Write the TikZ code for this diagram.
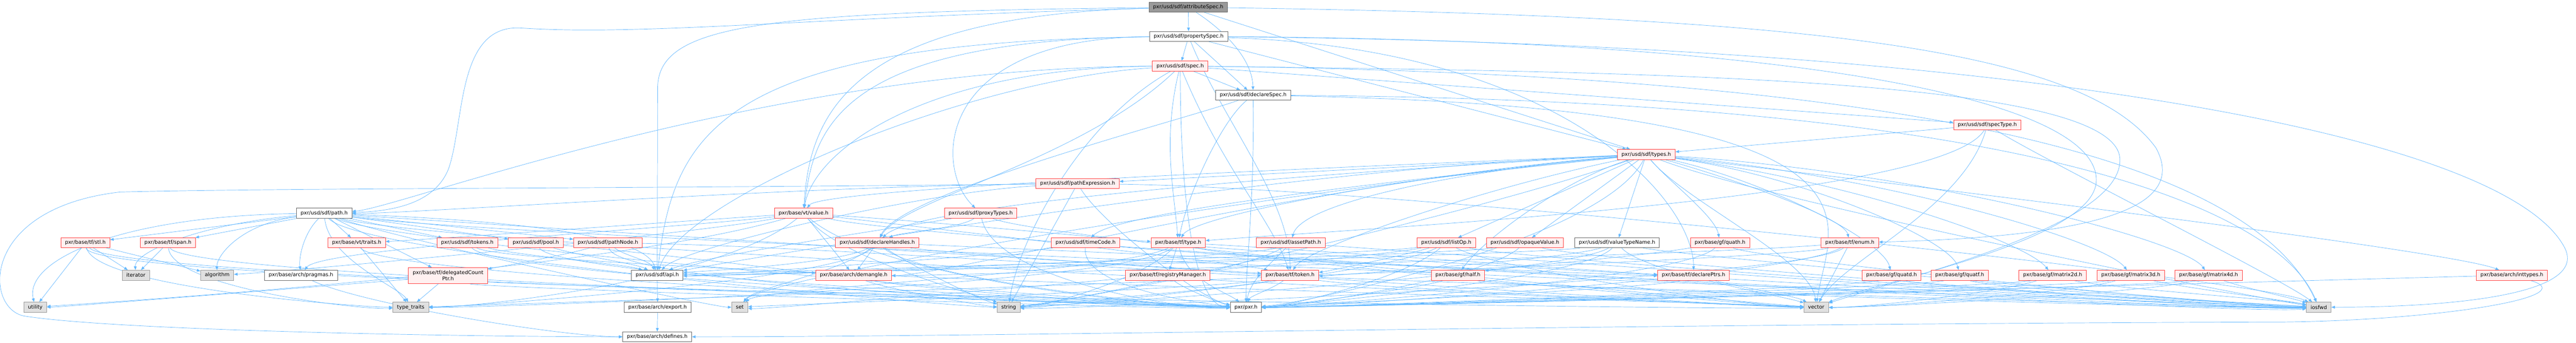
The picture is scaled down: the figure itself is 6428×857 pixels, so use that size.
\documentclass[tikz,border=0pt]{standalone}
\usepackage{fontspec}
\newfontfamily\dv{DejaVu Sans}
\usetikzlibrary{arrows.meta,backgrounds}
\definecolor{edgec}{RGB}{99,184,255}
\definecolor{rbord}{RGB}{255,64,64}
\definecolor{rfill}{RGB}{255,240,240}
\definecolor{wbord}{RGB}{102,102,102}
\definecolor{sbord}{RGB}{153,153,153}
\definecolor{sfill}{RGB}{224,224,224}
\definecolor{rootfill}{RGB}{153,153,153}
\newcommand\ES[2]{\draw[ed] (#1) -- (#2);}
\newcommand\EC[4]{\draw[ed] (#1) .. controls #3 and #4 .. (#2);}
\begin{document}
\begin{tikzpicture}[x=1pt,y=-1pt,
 nb/.style={draw, line width=1pt, minimum height=25pt, inner xsep=10.5pt, inner ysep=2pt, font=\dv\fontsize{12.8}{15}\selectfont, text=black},
 rn/.style={nb, draw=rbord, fill=rfill},
 wn/.style={nb, draw=wbord, fill=white},
 sn/.style={nb, draw=sbord, fill=sfill},
 gn/.style={nb, draw=wbord, fill=rootfill},
 ed/.style={draw=edgec, line width=0.9pt, -{Triangle[length=9pt,width=7pt]}}]
\useasboundingbox (0,0) rectangle (6428,857);
% nodes
\node[gn] (root) at (2965,18) {pxr/usd/sdf/attributeSpec.h};
\node[wn] (pspec) at (2966,91) {pxr/usd/sdf/propertySpec.h};
\node[rn] (spec) at (2945,165) {pxr/usd/sdf/spec.h};
\node[wn] (dspec) at (3127,238) {pxr/usd/sdf/declareSpec.h};
\node[rn] (stype) at (4959,312) {pxr/usd/sdf/specType.h};
\node[rn] (types) at (4108,386) {pxr/usd/sdf/types.h};
\node[rn] (pexpr) at (2689,459) {pxr/usd/sdf/pathExpression.h};
\node[wn] (path) at (809,533) {pxr/usd/sdf/path.h};
\node[rn] (value) at (2005,533) {pxr/base/vt/value.h};
\node[rn] (proxy) at (2447,533) {pxr/usd/sdf/proxyTypes.h};
\node[rn] (stl) at (213,607) {pxr/base/tf/stl.h};
\node[rn] (span) at (419,607) {pxr/base/tf/span.h};
\node[rn] (traits) at (890,607) {pxr/base/vt/traits.h};
\node[rn] (tokens) at (1166,607) {pxr/usd/sdf/tokens.h};
\node[rn] (pool) at (1337,607) {pxr/usd/sdf/pool.h};
\node[rn] (pnode) at (1517,607) {pxr/usd/sdf/pathNode.h};
\node[rn] (dhandles) at (2189,607) {pxr/usd/sdf/declareHandles.h};
\node[rn] (tcode) at (2709,607) {pxr/usd/sdf/timeCode.h};
\node[rn] (tftype) at (2940,607) {pxr/base/tf/type.h};
\node[rn] (apath) at (3221,607) {pxr/usd/sdf/assetPath.h};
\node[rn] (listop) at (3609,607) {pxr/usd/sdf/listOp.h};
\node[rn] (opaque) at (3805,607) {pxr/usd/sdf/opaqueValue.h};
\node[wn] (vtn) at (4035,607) {pxr/usd/sdf/valueTypeName.h};
\node[rn] (quath) at (4292,607) {pxr/base/gf/quath.h};
\node[rn] (enum) at (4616,607) {pxr/base/tf/enum.h};
\node[sn] (iterator) at (339,688) {iterator};
\node[sn] (algorithm) at (542,688) {algorithm};
\node[wn] (pragmas) at (751,688) {pxr/base/arch/pragmas.h};
\node[rn, minimum height=40pt, align=center] (dcp) at (1118,689) {pxr/base/tf/delegatedCount\\Ptr.h};
\node[wn] (api) at (1640,688) {pxr/usd/sdf/api.h};
\node[rn] (demangle) at (2130,688) {pxr/base/arch/demangle.h};
\node[rn] (regmgr) at (2914,688) {pxr/base/tf/registryManager.h};
\node[rn] (token) at (3219,688) {pxr/base/tf/token.h};
\node[rn] (half) at (3638,688) {pxr/base/gf/half.h};
\node[rn] (dptrs) at (4226,688) {pxr/base/tf/declarePtrs.h};
\node[rn] (quatd) at (4720,688) {pxr/base/gf/quatd.h};
\node[rn] (quatf) at (4890,688) {pxr/base/gf/quatf.h};
\node[rn] (mtwo) at (5122,688) {pxr/base/gf/matrix2d.h};
\node[rn] (mthree) at (5317,688) {pxr/base/gf/matrix3d.h};
\node[rn] (mfour) at (5511,688) {pxr/base/gf/matrix4d.h};
\node[rn] (inttypes) at (6268,688) {pxr/base/arch/inttypes.h};
\node[sn] (utility) at (88,768) {utility};
\node[sn] (ttraits) at (1025,768) {type\_traits};
\node[wn] (export) at (1641,768) {pxr/base/arch/export.h};
\node[sn] (set) at (1846,768) {set};
\node[sn] (string) at (2517,768) {string};
\node[wn] (pxr) at (3109,768) {pxr/pxr.h};
\node[sn] (vector) at (4532,768) {vector};
\node[sn] (iosfwd) at (5786,768) {iosfwd};
\node[wn] (defines) at (1640,842) {pxr/base/arch/defines.h};
\begin{pgfonlayer}{background}
\fill[white] (0,0) rectangle (6428,857);
% root
\ES{root}{pspec}
\EC{root}{dspec}{(3060,80)}{(3125,150)}
\ES{root}{types}
\draw[ed] (root) .. controls (4500,40) and (5200,120) .. (5380,370) .. controls (5450,500) and (5300,590) .. (enum);
\draw[ed] (root) .. controls (1900,30) and (1642,60) .. (1641,220) -- (api);
\draw[ed] (root) .. controls (2000,45) and (1600,90) .. (1300,70) .. controls (1140,60) and (1160,300) .. (1120,420) .. controls (1090,500) and (1000,528) .. (path);
\EC{root}{value}{(2100,40)}{(2020,300)}
% propertySpec
\ES{pspec}{spec}
\ES{pspec}{dspec}
\ES{pspec}{types}
\EC{pspec}{proxy}{(2330,95)}{(2330,420)}
\EC{pspec}{value}{(2080,100)}{(2030,330)}
\EC{pspec}{api}{(1800,105)}{(1680,330)}
\draw[ed] (pspec) .. controls (5000,110) and (6250,330) .. (6400,620) .. controls (6460,740) and (6100,768) .. (iosfwd);
\draw[ed] (pspec) .. controls (4500,100) and (5231,250) .. (5231,450) .. controls (5231,600) and (4700,700) .. (vector);
\EC{pspec}{dptrs}{(3900,120)}{(4226,500)}
\EC{pspec}{token}{(3050,300)}{(3220,500)}
% spec
\ES{spec}{dspec}
\EC{spec}{tftype}{(2900,350)}{(2930,480)}
\EC{spec}{value}{(2300,170)}{(2030,380)}
\EC{spec}{dhandles}{(2700,400)}{(2250,500)}
\EC{spec}{path}{(1900,170)}{(1000,520)}
\EC{spec}{pxr}{(2946,560)}{(2990,768)}
\ES{spec}{stype}
\EC{spec}{iosfwd}{(5100,190)}{(5650,480)}
\EC{spec}{string}{(2700,300)}{(2540,600)}
\draw[ed] (spec) .. controls (4200,180) and (5290,200) .. (5290,400) .. controls (5290,560) and (4800,680) .. (vector);
\EC{spec}{token}{(3050,420)}{(3180,560)}
\EC{spec}{api}{(2400,200)}{(1700,500)}
% declareSpec
\EC{dspec}{dhandles}{(2950,300)}{(2250,480)}
\EC{dspec}{tftype}{(3050,300)}{(2965,480)}
\EC{dspec}{pxr}{(3130,500)}{(3110,650)}
\EC{dspec}{iosfwd}{(5200,250)}{(5700,560)}
\EC{dspec}{vector}{(4800,270)}{(4560,560)}
% specType
\ES{stype}{types}
\EC{stype}{tftype}{(4850,500)}{(3400,570)}
\EC{stype}{iosfwd}{(5100,400)}{(5700,700)}
\EC{stype}{vector}{(4900,520)}{(4600,650)}
% types
\EC{types}{api}{(3200,420)}{(1900,640)}
\EC{types}{apath}{(3700,420)}{(3250,500)}
\EC{types}{dhandles}{(3500,420)}{(2300,500)}
\ES{types}{listop}
\ES{types}{opaque}
\ES{types}{pexpr}
\EC{types}{tcode}{(3700,430)}{(2800,520)}
\ES{types}{vtn}
\EC{types}{demangle}{(3300,450)}{(2350,690)}
\EC{types}{inttypes}{(4400,420)}{(6100,620)}
\EC{types}{half}{(3900,450)}{(3700,600)}
\EC{types}{mtwo}{(4600,450)}{(5050,600)}
\EC{types}{mthree}{(4700,440)}{(5250,600)}
\EC{types}{mfour}{(4800,430)}{(5450,600)}
\EC{types}{quatd}{(4400,450)}{(4700,600)}
\EC{types}{quatf}{(4500,440)}{(4870,600)}
\EC{types}{quath}{(4160,450)}{(4280,540)}
\EC{types}{enum}{(4300,440)}{(4600,540)}
\EC{types}{token}{(3700,470)}{(3260,620)}
\EC{types}{tftype}{(3500,440)}{(2980,540)}
\EC{types}{value}{(3300,420)}{(2050,470)}
\EC{types}{pxr}{(4000,600)}{(3250,760)}
\EC{types}{iosfwd}{(4400,500)}{(5600,740)}
\EC{types}{string}{(3600,560)}{(2650,760)}
\EC{types}{vector}{(4200,500)}{(4520,650)}
\EC{types}{set}{(3000,500)}{(1900,700)}
% pathExpression
\EC{pexpr}{path}{(2000,465)}{(1000,535)}
\ES{pexpr}{string}
\EC{pexpr}{api}{(2300,480)}{(1700,620)}
\EC{pexpr}{pxr}{(2750,560)}{(3000,750)}
\EC{pexpr}{iosfwd}{(3500,470)}{(5650,700)}
\draw[ed] (pexpr) .. controls (1500,472) and (700,470) .. (300,480) .. controls (-50,520) and (-40,770) .. (60,790) .. controls (300,828) and (1200,842) .. (defines);
% path
\ES{path}{stl}
\ES{path}{span}
\ES{path}{traits}
\ES{path}{tokens}
\ES{path}{pool}
\ES{path}{pnode}
\ES{path}{dcp}
\EC{path}{api}{(1500,560)}{(1620,620)}
\EC{path}{pragmas}{(760,580)}{(745,640)}
\EC{path}{iterator}{(500,560)}{(335,630)}
\EC{path}{algorithm}{(600,560)}{(540,640)}
\EC{path}{utility}{(300,540)}{(60,650)}
\EC{path}{ttraits}{(820,650)}{(1000,720)}
\EC{path}{set}{(1000,600)}{(1780,768)}
\EC{path}{string}{(900,640)}{(2400,768)}
\EC{path}{vector}{(1100,620)}{(4400,768)}
\EC{path}{iosfwd}{(1300,600)}{(5500,760)}
\EC{path}{pxr}{(1000,620)}{(2950,768)}
\EC{path}{token}{(1200,560)}{(3100,680)}
% value
\EC{value}{traits}{(1600,560)}{(1050,600)}
\ES{value}{demangle}
\EC{value}{tftype}{(2400,560)}{(2800,600)}
\EC{value}{pragmas}{(1700,570)}{(800,620)}
\EC{value}{algorithm}{(1700,590)}{(700,680)}
\EC{value}{utility}{(1500,680)}{(200,760)}
\EC{value}{ttraits}{(1800,700)}{(1200,768)}
\EC{value}{pxr}{(2200,700)}{(2900,768)}
\EC{value}{string}{(2100,650)}{(2450,740)}
\EC{value}{iosfwd}{(2400,620)}{(5600,780)}
\EC{value}{token}{(2400,580)}{(3100,660)}
% proxyTypes
\EC{proxy}{dhandles}{(2400,570)}{(2250,580)}
\EC{proxy}{pxr}{(2480,700)}{(2950,775)}
\EC{proxy}{api}{(2300,560)}{(1750,640)}
\EC{proxy}{vector}{(2600,600)}{(4400,760)}
% stl, span, traits
\ES{stl}{iterator}
\ES{stl}{algorithm}
\ES{stl}{utility}
\EC{stl}{ttraits}{(240,720)}{(900,768)}
\EC{stl}{pxr}{(290,700)}{(2950,760)}
\EC{stl}{vector}{(230,730)}{(4400,775)}
\ES{span}{iterator}
\EC{span}{ttraits}{(430,720)}{(900,775)}
\EC{span}{pxr}{(460,700)}{(2950,765)}
\ES{traits}{ttraits}
\EC{traits}{pxr}{(960,700)}{(2950,770)}
% tokens, pool, pathNode
\EC{tokens}{api}{(1300,640)}{(1560,660)}
\EC{tokens}{pxr}{(1250,700)}{(2950,765)}
\EC{tokens}{vector}{(1300,680)}{(4400,760)}
\EC{pool}{api}{(1450,640)}{(1590,660)}
\EC{pool}{demangle}{(1700,640)}{(2000,680)}
\EC{pool}{pxr}{(1400,700)}{(2950,760)}
\EC{pnode}{api}{(1560,640)}{(1620,650)}
\EC{pnode}{dcp}{(1400,640)}{(1230,670)}
\EC{pnode}{token}{(2000,615)}{(3100,690)}
\EC{pnode}{pxr}{(1540,720)}{(2950,770)}
% declareHandles
\ES{dhandles}{demangle}
\EC{dhandles}{api}{(2100,660)}{(1720,680)}
\EC{dhandles}{dptrs}{(2500,620)}{(4100,690)}
\EC{dhandles}{ttraits}{(2100,700)}{(1150,768)}
\EC{dhandles}{set}{(2100,680)}{(1880,720)}
\EC{dhandles}{pxr}{(2300,700)}{(2950,770)}
\EC{dhandles}{vector}{(2400,640)}{(4400,770)}
\EC{dhandles}{string}{(2300,680)}{(2450,750)}
% timeCode
\EC{tcode}{api}{(2500,640)}{(1720,690)}
\EC{tcode}{pxr}{(2700,720)}{(3000,760)}
\EC{tcode}{iosfwd}{(3000,640)}{(5600,790)}
% tf/type
\ES{tftype}{regmgr}
\EC{tftype}{pxr}{(2960,700)}{(3060,730)}
\EC{tftype}{set}{(2800,680)}{(1900,720)}
\EC{tftype}{string}{(2850,700)}{(2600,768)}
\EC{tftype}{vector}{(3100,650)}{(4400,765)}
\EC{tftype}{iosfwd}{(3100,630)}{(5600,775)}
\EC{tftype}{ttraits}{(2800,720)}{(1150,770)}
\EC{tftype}{dptrs}{(3200,620)}{(4100,685)}
\EC{regmgr}{pxr}{(2950,720)}{(3050,760)}
% demangle, dcp
\EC{demangle}{string}{(2200,720)}{(2450,765)}
\EC{demangle}{pxr}{(2250,720)}{(2950,770)}
\ES{dcp}{ttraits}
\EC{dcp}{utility}{(1000,700)}{(150,768)}
\EC{dcp}{pxr}{(1200,720)}{(2950,775)}
% assetPath, listOp, opaqueValue, valueTypeName
\EC{apath}{pxr}{(3170,660)}{(3120,700)}
\EC{apath}{api}{(3100,650)}{(1720,690)}
\EC{apath}{iosfwd}{(3400,620)}{(5600,780)}
\EC{apath}{string}{(3100,680)}{(2600,760)}
\EC{listop}{api}{(3400,640)}{(1720,685)}
\EC{listop}{token}{(3500,640)}{(3300,680)}
\EC{listop}{pxr}{(3500,700)}{(3200,768)}
\EC{listop}{string}{(3450,690)}{(2600,770)}
\EC{listop}{vector}{(3750,680)}{(4400,768)}
\EC{listop}{iosfwd}{(3800,650)}{(5600,770)}
\EC{listop}{set}{(3400,650)}{(1900,775)}
\EC{opaque}{api}{(3600,640)}{(1720,690)}
\EC{opaque}{pxr}{(3700,700)}{(3200,770)}
\EC{opaque}{iosfwd}{(3950,650)}{(5600,770)}
\EC{vtn}{api}{(3800,640)}{(1720,690)}
\EC{vtn}{token}{(3900,650)}{(3300,690)}
\EC{vtn}{pxr}{(3950,700)}{(3200,765)}
\EC{vtn}{iosfwd}{(4200,640)}{(5600,765)}
\EC{vtn}{string}{(3900,690)}{(2600,765)}
\EC{vtn}{vector}{(4100,680)}{(4450,740)}
% quath, enum
\EC{quath}{half}{(4100,640)}{(3750,670)}
\EC{quath}{pxr}{(4200,700)}{(3200,768)}
\EC{quath}{iosfwd}{(4400,650)}{(5600,770)}
\ES{enum}{vector}
\EC{enum}{string}{(4500,700)}{(2600,775)}
\EC{enum}{pxr}{(4450,700)}{(3200,770)}
\EC{enum}{demangle}{(4200,640)}{(2300,690)}
\EC{enum}{ttraits}{(4400,660)}{(1150,765)}
% row 688
\EC{dptrs}{vector}{(4350,720)}{(4480,740)}
\EC{dptrs}{pxr}{(4150,720)}{(3200,765)}
\EC{quatd}{pxr}{(4650,720)}{(3200,770)}
\EC{quatd}{iosfwd}{(4800,720)}{(5650,760)}
\EC{quatf}{pxr}{(4800,720)}{(3200,770)}
\EC{quatf}{iosfwd}{(4950,720)}{(5650,760)}
\EC{mtwo}{pxr}{(5000,720)}{(3200,770)}
\EC{mtwo}{iosfwd}{(5250,720)}{(5700,750)}
\EC{mtwo}{vector}{(5000,730)}{(4650,770)}
\EC{mthree}{pxr}{(5200,720)}{(3200,770)}
\EC{mthree}{iosfwd}{(5450,720)}{(5700,750)}
\EC{mthree}{vector}{(5200,730)}{(4650,770)}
\EC{mfour}{pxr}{(5400,720)}{(3200,770)}
\EC{mfour}{iosfwd}{(5600,720)}{(5720,745)}
\EC{mfour}{vector}{(5400,730)}{(4650,770)}
\EC{half}{pxr}{(3550,720)}{(3200,765)}
\EC{half}{iosfwd}{(3750,720)}{(5600,775)}
\EC{token}{pxr}{(3180,720)}{(3120,740)}
\EC{token}{string}{(3100,720)}{(2600,760)}
\EC{token}{vector}{(3400,720)}{(4400,765)}
\EC{token}{iosfwd}{(3400,700)}{(5600,772)}
\EC{token}{set}{(3050,720)}{(1900,765)}
\EC{inttypes}{pxr}{(5800,700)}{(3300,770)}
\draw[ed] (inttypes) .. controls (6450,740) and (6100,800) .. (5700,805) .. controls (4000,810) and (2500,842) .. (defines);
% arch
\EC{pragmas}{defines}{(900,760)}{(1400,842)}
\ES{api}{export}
\ES{export}{defines}
\end{pgfonlayer}
\end{tikzpicture}
\end{document}
